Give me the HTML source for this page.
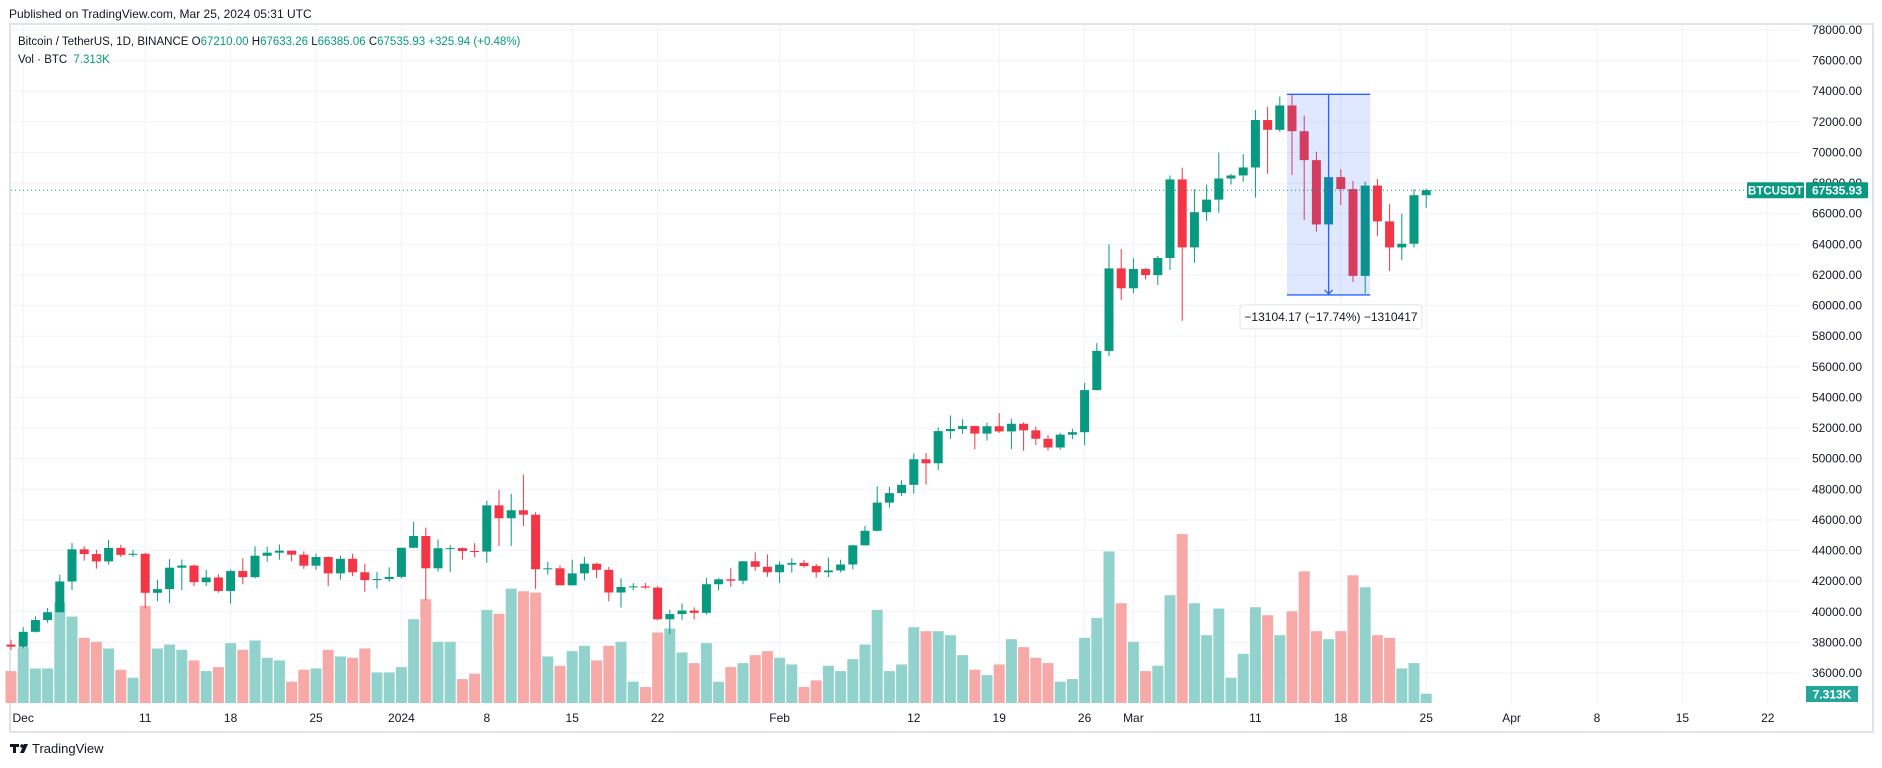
<!DOCTYPE html>
<html><head><meta charset="utf-8"><title>BTCUSDT chart</title>
<style>
html,body{margin:0;padding:0;background:#fff;width:1882px;height:768px;overflow:hidden;}
svg{display:block;font-family:"Liberation Sans",sans-serif;}
</style></head>
<body>
<svg id="chart" width="1882" height="768" viewBox="0 0 1882 768" xmlns="http://www.w3.org/2000/svg">
<rect x="0" y="0" width="1882" height="768" fill="#fff"/>
<text x="9" y="18" font-size="12" fill="#131722">Published on TradingView.com, Mar 25, 2024 05:31 UTC</text>
<rect x="10" y="24" width="1863" height="708" fill="none" stroke="#e0e3eb" stroke-width="2"/>
<g id="grid"></g>
<g id="vol"></g>
<g id="candles"></g>
<g id="axes"></g>
<g id="overlay"></g>
<text x="18" y="45" font-size="11.5" fill="#131722">Bitcoin / TetherUS, 1D, BINANCE <tspan fill="#131722">O</tspan><tspan fill="#089981">67210.00</tspan> <tspan fill="#131722">H</tspan><tspan fill="#089981">67633.26</tspan> <tspan fill="#131722">L</tspan><tspan fill="#089981">66385.06</tspan> <tspan fill="#131722">C</tspan><tspan fill="#089981">67535.93</tspan> <tspan fill="#089981">+325.94 (+0.48%)</tspan></text>
<text x="18" y="63" font-size="11.5" fill="#131722">Vol · BTC <tspan fill="#089981" dx="3">7.313K</tspan></text>
<g>
<rect x="10" y="744" width="9" height="3" fill="#131722"/><rect x="13" y="744" width="3" height="9" fill="#131722"/>
<circle cx="22" cy="746" r="1.8" fill="#131722"/><polygon points="24,744 28,744 24,753 20,753" fill="#131722"/>
<text x="32" y="753" font-size="13" fill="#131722">TradingView</text>
</g>
</svg>
<script>
const dates = ["Nov30","Dec1","Dec2","Dec3","Dec4","Dec5","Dec6","Dec7","Dec8","Dec9","Dec10","Dec11","Dec12","Dec13","Dec14","Dec15","Dec16","Dec17","Dec18","Dec19","Dec20","Dec21","Dec22","Dec23","Dec24","Dec25","Dec26","Dec27","Dec28","Dec29","Dec30","Dec31","Jan1","Jan2","Jan3","Jan4","Jan5","Jan6","Jan7","Jan8","Jan9","Jan10","Jan11","Jan12","Jan13","Jan14","Jan15","Jan16","Jan17","Jan18","Jan19","Jan20","Jan21","Jan22","Jan23","Jan24","Jan25","Jan26","Jan27","Jan28","Jan29","Jan30","Jan31","Feb1","Feb2","Feb3","Feb4","Feb5","Feb6","Feb7","Feb8","Feb9","Feb10","Feb11","Feb12","Feb13","Feb14","Feb15","Feb16","Feb17","Feb18","Feb19","Feb20","Feb21","Feb22","Feb23","Feb24","Feb25","Feb26","Feb27","Feb28","Feb29","Mar1","Mar2","Mar3","Mar4","Mar5","Mar6","Mar7","Mar8","Mar9","Mar10","Mar11","Mar12","Mar13","Mar14","Mar15","Mar16","Mar17","Mar18","Mar19","Mar20","Mar21","Mar22","Mar23","Mar24","Mar25"];
const opens = [37860,37720,38690,39460,39970,41980,44080,43770,43290,44170,43720,43790,41240,41480,42880,43020,41930,42240,41360,42660,42260,43660,43860,43990,43730,43010,43580,42510,43460,42580,42070,42140,42280,44180,44950,42840,44150,44160,43970,43930,46950,46110,46630,46340,42780,42840,41730,42510,43140,42740,41260,41620,41660,41580,39510,39850,40080,39930,41800,42120,42030,43300,42940,42580,43080,43190,42990,42580,42700,43090,44340,45290,47130,47750,48290,49960,49700,51800,51940,52130,51640,52120,51780,52280,51850,51300,50730,51570,51730,54480,57040,62430,61130,62390,61990,63110,68240,63800,66100,66920,68300,68500,69020,72120,71480,73070,71390,69500,65300,68390,67610,61940,67840,65500,63800,64040,67210];
const highs = [38170,38990,39700,40250,42420,44490,44300,44050,44700,44370,44040,43850,42100,43440,43420,43090,42730,42450,42760,43490,44280,44240,44400,43980,43940,43800,43600,43680,43800,43140,42600,42900,44180,45880,45500,44730,44350,44200,44480,47250,47970,47700,48970,46500,43260,43050,43400,43580,43200,42930,42200,41870,41880,41680,40130,40550,40290,42220,42200,42840,43310,43880,43750,43290,43490,43380,43120,43540,43400,44380,45600,48200,48170,48590,50330,50370,52040,52820,52570,52160,52350,52980,52600,52380,52100,51540,51680,51960,54950,57550,64000,63700,63100,62450,63240,68500,69000,67600,67900,69990,68600,69900,72770,72990,73650,73800,72400,70050,68500,68900,68140,68100,68270,66630,66000,67600,67633];
const lows = [37500,37600,38650,39280,39970,41420,43340,42820,43080,43580,43580,40220,40680,40550,41420,41670,41680,41250,40530,41800,42180,43270,43400,43300,42800,42720,41680,42100,42320,41300,41520,41970,42180,44150,40750,42620,42600,43400,43560,43200,44300,44300,45600,41500,42430,41720,41720,42050,42200,40680,40280,41400,41500,39440,38550,39480,39500,39820,41400,41620,41800,42680,42280,41880,42560,42880,42220,42260,42570,42780,44330,45250,46800,47560,47710,48300,49250,51300,51620,50620,51180,51680,50630,50520,50900,50550,50600,51280,50900,54450,56700,60360,60800,61700,61350,62330,59000,62800,65540,66070,67900,68090,67050,68610,71360,68530,65590,64830,64550,66570,61540,60800,64550,62260,62970,63800,66385];
const closes = [37720,38690,39460,39970,41980,44080,43770,43290,44170,43720,43790,41240,41480,42880,43020,41930,42240,41360,42660,42260,43660,43860,43990,43730,43010,43580,42510,43460,42580,42070,42140,42280,44180,44950,42840,44150,44160,43970,43930,46950,46110,46630,46340,42780,42840,41730,42510,43140,42740,41260,41620,41660,41580,39510,39850,40080,39930,41800,42120,42030,43300,42940,42580,43080,43190,42990,42580,42700,43090,44340,45290,47130,47750,48290,49960,49700,51800,51940,52130,51640,52120,51780,52280,51850,51300,50730,51570,51730,54480,57040,62430,61130,62390,61990,63110,68240,63800,66100,66920,68300,68500,69020,72120,71480,73070,71390,69500,65300,68390,67610,61940,67840,65500,63800,64040,67210,67536];
const volumes = [24,42,26,26,76,65,49,46,41,25,19,73,41,44,40,32,24,27,45,40,47,34,32,16,25,26,40,35,34,41,23,23,27,63,78,46,46,18,22,70,67,86,84,83,35,28,39,43,32,43,46,16,12,53,56,38,30,45,16,27,30,36,39,34,29,12,17,28,24,33,44,70,24,29,57,54,54,51,36,25,21,29,48,42,34,30,16,18,49,64,114,75,46,24,28,81,127,75,51,71,19,37,72,66,51,69,99,54,48,54,96,87,51,49,26,30,7];
const priceTicks = [36000,38000,40000,42000,44000,46000,48000,50000,52000,54000,56000,58000,60000,62000,64000,66000,68000,70000,72000,74000,76000,78000];
const dateTickIdx = [1,11,18,25,32,39,46,53,63,74,81,88,92,102,109,116,123,130,137,144];
const dateTickLabels = ["Dec","11","18","25","2024","8","15","22","Feb","12","19","26","Mar","11","18","25","Apr","8","15","22"];
const lastPrice = 67535.93;
const measureHigh = 73800, measureLow = 60696;
const measureStartIdx = 105, measureEndIdx = 111;

const NS = "http://www.w3.org/2000/svg";
const UP = "#089981", DN = "#f23645", UPV = "#92d2cc", DNV = "#f7a9a7";
function xAt(i){ return 23.2 + 12.2*(i-1); }
function yAt(p){ return 30 + (78000-p)/1000*15.31; }
const VOL_BASE = 703;
function vh(v){ return v*1.33; }
function mk(tag, attrs, parent){ const e=document.createElementNS(NS,tag); for(const k in attrs) e.setAttribute(k,attrs[k]); parent.appendChild(e); return e; }

const grid = document.getElementById('grid');
priceTicks.forEach(p=>{
  const l = mk('line',{x1:11,x2:1800,y1:yAt(p),y2:yAt(p),stroke:'#f0f3fa','stroke-width':1},grid);
  
  
});
dateTickIdx.forEach(i=>{
  const l = mk('line',{x1:xAt(i),x2:xAt(i),y1:25,y2:705,stroke:'#f0f3fa','stroke-width':1},grid);
  
  
});

const vg = document.getElementById('vol');
volumes.forEach((v,i)=>{
  const up = closes[i] >= opens[i];
  const h = vh(v);
  const r = mk('rect',{x:xAt(i)-5.5,y:VOL_BASE-h,width:11,height:h,fill:up?UPV:DNV},vg);
  
  
});

const cg = document.getElementById('candles');
closes.forEach((c,i)=>{
  const o=opens[i], up=c>=o, col=up?UP:DN, x=xAt(i);
  const g = mk('g',{},cg);
  
  
  mk('line',{x1:x,x2:x,y1:yAt(highs[i]),y2:yAt(lows[i]),stroke:col,'stroke-width':1},g);
  const top=yAt(Math.max(o,c)), bot=yAt(Math.min(o,c));
  mk('rect',{x:x-4.5,y:top,width:9,height:Math.max(1,bot-top),fill:col},g);
});

const ax = document.getElementById('axes');
priceTicks.forEach(p=>{
  const t = mk('text',{x:1862,y:yAt(p)+4,'font-size':12,fill:'#131722','text-anchor':'end'},ax);
  t.textContent = p.toFixed(2);
  
  
});
dateTickIdx.forEach((i,k)=>{
  const t = mk('text',{x:xAt(i),y:722,'font-size':12,fill:'#131722','text-anchor':'middle'},ax);
  t.textContent = dateTickLabels[k];
  
  
});

const ov = document.getElementById('overlay');
const ly = yAt(lastPrice);
const pl = mk('line',{x1:11,x2:1747,y1:ly,y2:ly,stroke:UP,'stroke-width':1,'stroke-dasharray':'1 3'},ov);


const sb = mk('rect',{x:1747,y:ly-8,width:57,height:16,fill:UP,rx:1},ov);


const st = mk('text',{x:1775.5,y:ly+4.5,'font-size':11.5,'font-weight':'bold',fill:'#fff','text-anchor':'middle'},ov);
st.textContent='BTCUSDT';


const pb = mk('rect',{x:1806,y:ly-8,width:62,height:16,fill:UP,rx:1},ov);


const pt = mk('text',{x:1837,y:ly+4.5,'font-size':12,'font-weight':'bold',fill:'#fff','text-anchor':'middle'},ov);
pt.textContent=lastPrice.toFixed(2);


const vb = mk('rect',{x:1806,y:686,width:52,height:16,fill:'#26a69a'},ov);


const vt = mk('text',{x:1832,y:698.5,'font-size':12,'font-weight':'bold',fill:'#fff','text-anchor':'middle'},ov);
vt.textContent='7.313K';



// measure tool
const mx1 = xAt(measureStartIdx)-5, mx2 = xAt(measureEndIdx)+5, my1=yAt(measureHigh), my2=yAt(measureLow);
const mg = mk('g',{},ov);


mk('rect',{x:mx1,y:my1,width:mx2-mx1,height:my2-my1,fill:'rgba(41,98,255,0.15)'},mg);
mk('line',{x1:mx1,x2:mx2,y1:my1,y2:my1,stroke:'#2962ff','stroke-width':1.3},mg);
mk('line',{x1:mx1,x2:mx2,y1:my2,y2:my2,stroke:'#2962ff','stroke-width':1.3},mg);
const mc=(mx1+mx2)/2;
mk('line',{x1:mc,x2:mc,y1:my1,y2:my2,stroke:'#2962ff','stroke-width':1.3},mg);
mk('polyline',{points:`${mc-4},${my2-5} ${mc},${my2-1} ${mc+4},${my2-5}`,fill:'none',stroke:'#2962ff','stroke-width':1.3},mg);
const lb = mk('rect',{x:1240,y:my2+10,width:182,height:24,rx:3,fill:'#fff',stroke:'#e0e3eb','stroke-width':1},ov);


const lt = mk('text',{x:1331,y:my2+26,'font-size':12,fill:'#131722','text-anchor':'middle'},ov);
lt.textContent='\u221213104.17 (\u221217.74%) \u22121310417';


</script>
</body></html>
